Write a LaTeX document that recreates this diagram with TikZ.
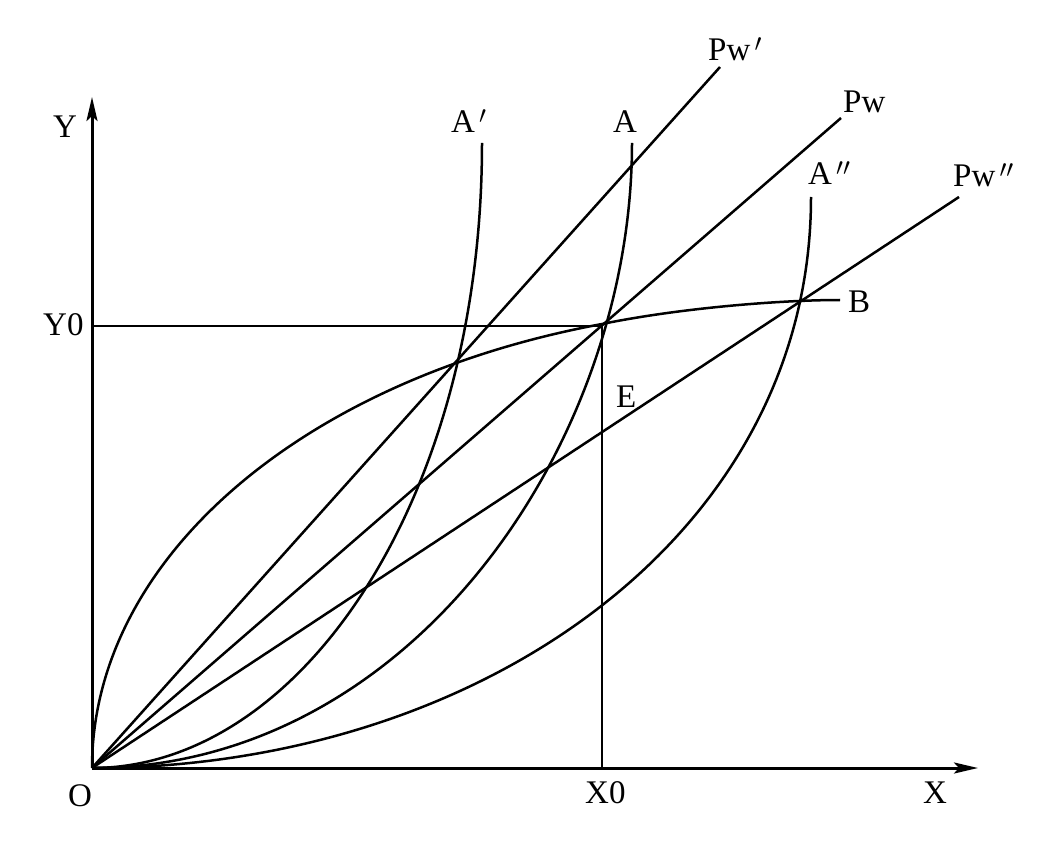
\documentclass[tikz,border=0pt]{standalone}
\usepackage{fontspec}
\setmainfont{Liberation Serif}
\usetikzlibrary{arrows.meta}
\begin{document}
\begin{tikzpicture}[x=1pt,y=-1pt,
  axis/.style={line width=3pt,-{Stealth[length=24pt,width=11pt,inset=5pt]}},
  curve/.style={line width=2.5pt},
  ray/.style={line width=2.5pt},
  lab/.style={anchor=base west,inner sep=0pt,font=\fontsize{33}{36}\selectfont}]
\useasboundingbox (0,0) rectangle (1039,850);
% coordinates
\coordinate (O) at (92,768);
\coordinate (Ytip) at (92,97);
\coordinate (Xtip) at (978,768);
\coordinate (E) at (602,324);
\coordinate (Y0p) at (92,326);
\coordinate (X0p) at (602,768);
\coordinate (Pwpe) at (720,67);
\coordinate (Pwe) at (841,118);
\coordinate (Pwppe) at (959,197);
\coordinate (Be) at (840,300);
\coordinate (Ape) at (482,143);
\coordinate (Ae) at (632,143);
\coordinate (Appe) at (811,197);
% axes
\draw[axis] (O) -- (Ytip);
\draw[axis] (O) -- (Xtip);
% guide lines
\draw[ray] (Y0p) -- (602,326) -- (X0p);
% rays
\draw[ray] (O) -- (Pwpe);
\draw[ray] (O) -- (Pwe);
\draw[ray] (O) -- (Pwppe);
% curve B
\draw[curve] (O) .. controls (92,560) and (300,380) .. (E) .. controls (680,308) and (780,300) .. (Be);
% curves A
\draw[curve] (O) .. controls (300,768) and (482,500) .. (Ape);
\draw[curve] (O) .. controls (410,768) and (632,445) .. (Ae);
\draw[curve] (O) .. controls (480,768) and (811,535) .. (Appe);
% labels
\node[lab] (lY) at (53,138) {Y};
\node[lab] (lY0) at (43,336) {Y0};
\node[lab] (lO) at (68,806) {O};
\node[lab] (lX0) at (585,803) {X0};
\node[lab] (lX) at (923,803) {X};
\node[lab] (lE) at (616,407) {E};
\node[lab] (lB) at (848,313) {B};
\node[lab] (lAp) at (451,133) {A$^{\,\prime}$};
\node[lab] (lA) at (613,133) {A};
\node[lab] (lApp) at (808,185) {A$^{\,\prime\prime}$};
\node[lab] (lPwp) at (708,61) {Pw$^{\,\prime}$};
\node[lab] (lPw) at (843,113) {Pw};
\node[lab] (lPwpp) at (953,187) {Pw$^{\,\prime\prime}$};
\end{tikzpicture}
\end{document}
